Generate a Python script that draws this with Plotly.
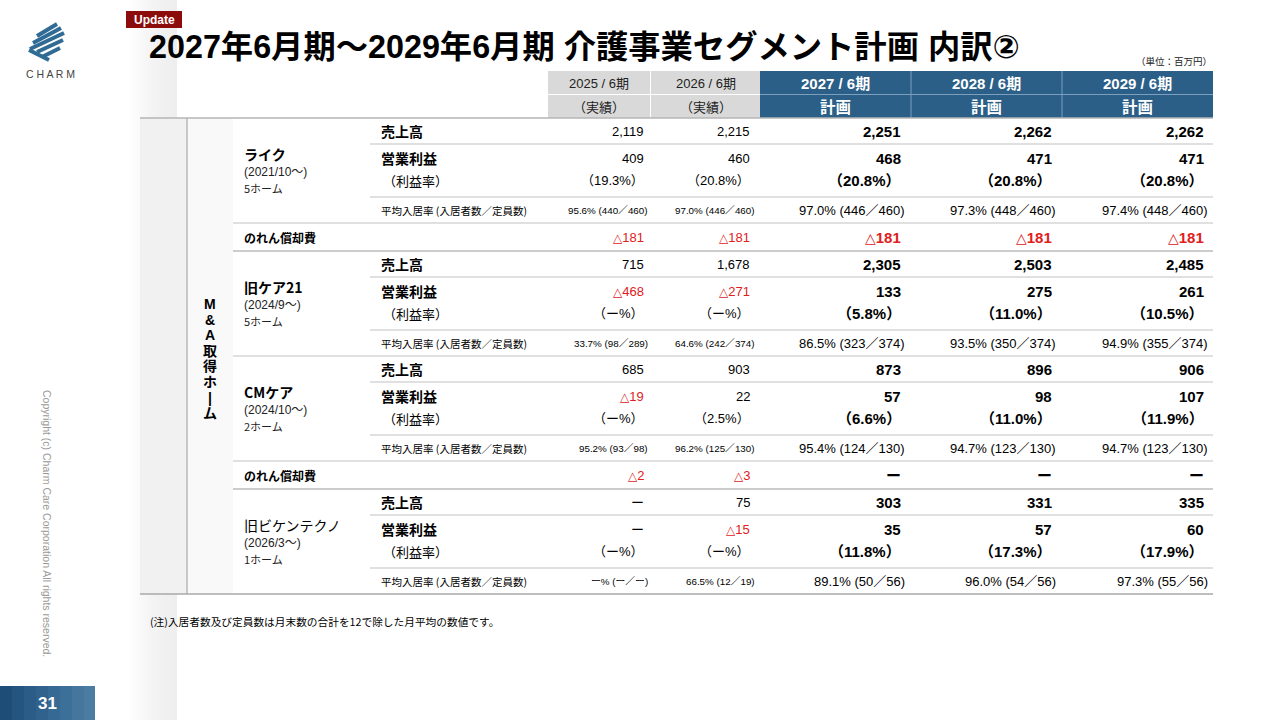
import plotly.graph_objects as go

# header
years = ["2025 / 6期", "2026 / 6期", "2027 / 6期", "2028 / 6期", "2029 / 6期"]
year_notes = ["（実績）", "（実績）", "計画", "計画", "計画"]

# acquired homes
homes = ["ライク", "旧ケア21", "CMケア", "旧ビケンテクノ"]
home_since = ["(2021/10～)", "(2024/9～)", "(2024/10～)", "(2026/3～)"]
home_count = ["5ホーム", "5ホーム", "2ホーム", "1ホーム"]

# 百万円, None = ー
sales = [
    [2119, 2215, 2251, 2262, 2262],
    [715, 1678, 2305, 2503, 2485],
    [685, 903, 873, 896, 906],
    [None, 75, 303, 331, 335],
]
op_profit = [
    [409, 460, 468, 471, 471],
    [-468, -271, 133, 275, 261],
    [-19, 22, 57, 98, 107],
    [None, -15, 35, 57, 60],
]
margin = [
    [19.3, 20.8, 20.8, 20.8, 20.8],
    [None, None, 5.8, 11.0, 10.5],
    [None, 2.5, 6.6, 11.0, 11.9],
    [None, None, 11.8, 17.3, 17.9],
]
occupancy = [
    [95.6, 97.0, 97.0, 97.3, 97.4],
    [33.7, 64.6, 86.5, 93.5, 94.9],
    [95.2, 96.2, 95.4, 94.7, 94.7],
    [None, 66.5, 89.1, 96.0, 97.3],
]
residents = [
    [440, 446, 446, 448, 448],
    [98, 242, 323, 350, 355],
    [93, 125, 124, 123, 123],
    [None, 12, 50, 54, 55],
]
capacity = [
    [460, 460, 460, 460, 460],
    [289, 374, 374, 374, 374],
    [98, 130, 130, 130, 130],
    [None, 19, 56, 56, 56],
]
goodwill_like = [-181, -181, -181, -181, -181]
goodwill_cm = [-2, -3, None, None, None]

JP = "Noto Sans CJK JP"
NUM = "Liberation Sans, DejaVu Sans, Noto Sans CJK JP"
RED = "#e0201c"
BLUE = "#2b5f87"

annotations = []
shapes = []


def txt(x, y, s, size, bold=False, color="#000", anchor="left", family=NUM, angle=0):
    if bold:
        s = "<b>" + s + "</b>"
    annotations.append(dict(x=x, y=y, xref="x", yref="y", text=s, showarrow=False,
                            xanchor=anchor, yanchor="middle", textangle=angle,
                            font=dict(size=size, color=color, family=family)))


def rect(x0, y0, x1, y1, fill):
    shapes.append(dict(type="rect", x0=x0, y0=y0, x1=x1, y1=y1, xref="x", yref="y",
                       fillcolor=fill, line=dict(width=0), layer="below"))


def hline(x0, x1, y, color, w=1.2):
    shapes.append(dict(type="line", x0=x0, x1=x1, y0=y, y1=y, xref="x", yref="y",
                       line=dict(color=color, width=w)))


def money(v, tri=12):
    if v is None:
        return "ー"
    if v < 0:
        return "<span style='font-size:%spx'>△</span>{:,}".format(-v) % tri
    return "{:,}".format(v)


def pct(v):
    return "（ー%）" if v is None else "（{:.1f}%）".format(v)


def occ(p, a, b):
    if p is None:
        return "ー% (ー／ー)"
    return "{:.1f}% ({}／{})".format(p, a, b)


# page shadow on the left
shade = ["#fefefe", "#fcfcfc", "#fafafa", "#f8f8f8", "#f6f6f6", "#f4f4f4",
         "#f3f3f3", "#f2f2f2", "#f1f1f1", "#f0f0f0", "#efefef", "#eeeeee"]
for k, c in enumerate(shade):
    rect(129 + k * 4, 0, 133 + k * 4, 720, c)

# logo
for (xa, ya, xb, yb) in [(37, 36, 57, 24), (33, 43, 61, 28), (30, 49, 64, 33),
                         (37, 52, 63, 40), (29, 50, 49, 60), (42, 57, 60, 48)]:
    shapes.append(dict(type="line", x0=xa, y0=ya, x1=xb, y1=yb, xref="x", yref="y",
                       line=dict(color="#2f6b94", width=4)))
txt(50, 74, "C H A R M", 10.5, color="#444", anchor="center", family="Liberation Sans")

# title
rect(126, 11, 182, 28, "#8c0c0c")
txt(154, 19.5, "Update", 12, bold=True, color="white", anchor="center")
txt(147, 47, "2027年6月期～2029年6月期 介護事業セグメント計画 内訳②", 32.3, bold=True, family=NUM)
txt(1214, 61, "（単位：百万円）", 9.5, color="#222", anchor="right", family=JP)

# column header
head_l = [548, 651, 760, 911, 1062]
head_r = [650, 760, 911, 1062, 1213]
for i in range(5):
    fill = "#d9d9d9" if i < 2 else BLUE
    rect(head_l[i], 71, head_r[i], 118, fill)
    cx = (head_l[i] + head_r[i]) / 2
    if i < 2:
        txt(cx, 83, years[i], 13, color="#222", anchor="center")
        txt(cx, 106, year_notes[i], 13, color="#222", anchor="center", family=JP)
    else:
        txt(cx, 83, years[i], 15, bold=True, color="white", anchor="center")
        txt(cx, 106, year_notes[i], 15.5, bold=True, color="white", anchor="center", family=JP)
hline(548, 760, 94.5, "white", 1)
hline(760, 1213, 94.5, "#7d9fbe", 1)
for xv, c in [(650.5, "white"), (911, "#7d9fbe"), (1062, "#7d9fbe")]:
    shapes.append(dict(type="line", x0=xv, x1=xv, y0=71, y1=118, xref="x", yref="y",
                       line=dict(color=c, width=1)))

# table body
top, bottom = 118, 594
rect(140, top, 187, bottom, "#f1f1f1")
rect(187, top, 233, bottom, "#f9f9f9")
shapes.append(dict(type="line", x0=187, x1=187, y0=top, y1=bottom, xref="x", yref="y",
                   line=dict(color="#aaaaaa", width=1.2)))
for k, ch in enumerate(["M", "&", "A", "取", "得", "ホ", "|", "ム"]):
    txt(210, 304 + k * 15.6, ch, 14, bold=True, anchor="center")

val_r = [646, 752, 903, 1054, 1206]
occ_r = [650, 757, 907, 1058, 1210]
LIGHT = "#d6d6d6"
DARK = "#9a9a9a"


def cell(i, y, v, red=False):
    col = RED if red else "#000"
    if i < 2:
        s = money(v, 12) if not isinstance(v, str) else v
        txt(val_r[i], y, s, 13, color=col, anchor="right")
    else:
        s = money(v, 14) if not isinstance(v, str) else v
        txt(val_r[i], y, s, 15, bold=True, color=col, anchor="right")


def goodwill_row(y0, vals):
    txt(242, y0 + 14, "のれん償却費", 12, bold=True, family=JP)
    for i, v in enumerate(vals):
        cell(i, y0 + 14, v, red=(v is not None and v < 0))
    hline(233, 1213, y0 + 28, DARK, 1.2)


y0 = top
for h in range(4):
    txt(242, y0 + 36, homes[h], 14, bold=(h < 3), family=JP)
    txt(242, y0 + 54, home_since[h], 12, color="#222")
    txt(242, y0 + 70, home_count[h], 11, color="#222", family=JP)

    txt(379, y0 + 13, "売上高", 14, bold=True, family=JP)
    txt(379, y0 + 40, "営業利益", 14, bold=True, family=JP)
    txt(381, y0 + 62, "（利益率）", 13, family=JP)
    txt(379, y0 + 92, "平均入居率 (入居者数／定員数)", 10.5, family=JP)

    for i in range(5):
        cell(i, y0 + 13, sales[h][i], red=(sales[h][i] or 0) < 0)
        cell(i, y0 + 40, op_profit[h][i], red=(op_profit[h][i] or 0) < 0)
        cell(i, y0 + 62, pct(margin[h][i]))
        s = occ(occupancy[h][i], residents[h][i], capacity[h][i])
        if i < 2:
            txt(occ_r[i], y0 + 92, s, 9.8, anchor="right")
        else:
            txt(occ_r[i], y0 + 92, s, 13, anchor="right")

    hline(370, 1213, y0 + 26, LIGHT, 1.5)
    hline(370, 1213, y0 + 79, LIGHT, 1.5)
    y0 += 105
    if h < 3:
        hline(233, 1213, y0, LIGHT, 1.5)
    if h == 0:
        goodwill_row(y0, goodwill_like)
        y0 += 28
    elif h == 2:
        goodwill_row(y0, goodwill_cm)
        y0 += 28

hline(140, 1213, top, "#b5b5b5", 1.5)
hline(140, 1213, bottom, "#a8a8a8", 1.5)

txt(148, 621, "(注)入居者数及び定員数は月末数の合計を12で除した月平均の数値です。", 10.7, family=JP)

# footer
txt(47, 523, "Copyright (c) Charm Care Corporation All rights reserved.", 10.5,
    color="#9a9a9a", anchor="center", family="Liberation Sans", angle=90)
blues = ["#1e4e78", "#245580", "#2a5c87", "#30628d", "#366993", "#3d7099", "#44769e", "#4b7da3"]
for k, c in enumerate(blues):
    rect(k * 12, 686, k * 12 + 12 if k < 7 else 95, 720, c)
txt(47, 703, "31", 17, bold=True, color="white", anchor="center")

fig = go.Figure()
fig.update_layout(width=1280, height=720, autosize=False,
                  margin=dict(l=0, r=0, t=0, b=0),
                  paper_bgcolor="white", plot_bgcolor="white",
                  showlegend=False, annotations=annotations, shapes=shapes,
                  xaxis=dict(range=[0, 1280], visible=False, fixedrange=True),
                  yaxis=dict(range=[720, 0], visible=False, fixedrange=True))

fig.write_html("out.html", config={"displayModeBar": False},
               post_script="document.body.style.margin='0';")
